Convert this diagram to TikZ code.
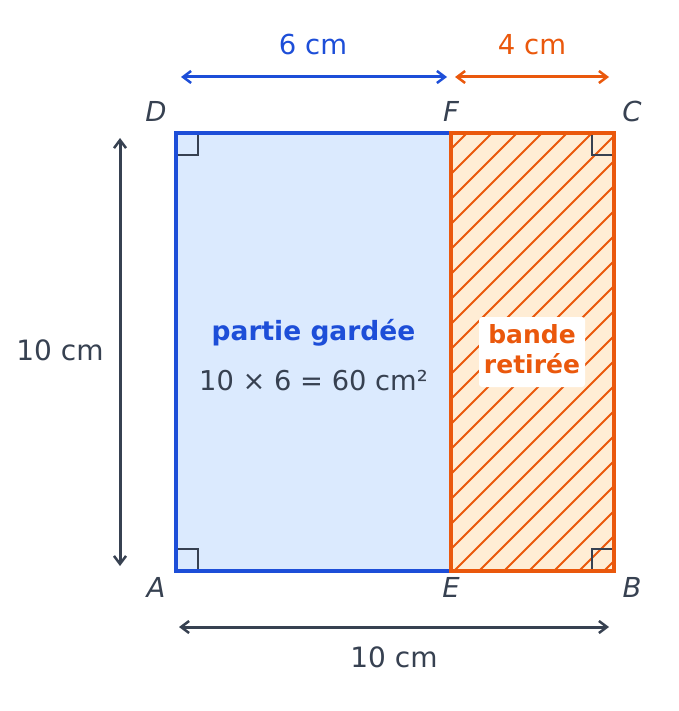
\documentclass[tikz,border=0pt]{standalone}
\usepackage{fontspec}
\setmainfont{DejaVu Sans}
\usetikzlibrary{arrows.meta}
\definecolor{bluec}{HTML}{1D4ED8}
\definecolor{bluefill}{HTML}{DBEAFE}
\definecolor{orangec}{HTML}{EA580C}
\definecolor{orangefill}{HTML}{FFEDD5}
\definecolor{darkc}{HTML}{374151}
\tikzset{
  txt/.style={anchor=base, inner sep=0pt, font=\fontsize{27.5}{32}\selectfont},
  ptlabel/.style={txt, text=darkc, font=\fontsize{27.5}{32}\selectfont\itshape},
  dimarrow/.style={line width=3pt, {Straight Barb[length=8pt,width=12pt,line width=2.5pt]}-{Straight Barb[length=8pt,width=12pt,line width=2.5pt]}},
  rightangle/.style={draw=darkc, line width=2.8pt},
  hatch/.style={orangec, line width=2pt},
}
\begin{document}
\begin{tikzpicture}[x=1pt,y=-1pt]
\useasboundingbox (0,0) rectangle (678,711);
% corner coordinates
\coordinate (A) at (176,571);
\coordinate (B) at (614,571);
\coordinate (C) at (614,133);
\coordinate (D) at (176,133);
\coordinate (E) at (451,571);
\coordinate (F) at (451,133);
% kept part
\fill[bluefill] (A) rectangle (F);
% removed strip
\fill[orangefill] (E) rectangle (C);
\begin{scope}
  \clip (E) rectangle (C);
  \foreach \k in {0,...,30} {
    \pgfmathsetmacro{\c}{600+25*(\k-6)}
    \draw[hatch] (\c-600,600) -- (\c-100,100);
  }
\end{scope}
% right-angle marks
\draw[rightangle] (176,155) -- (198,155) -- (198,133);
\draw[rightangle] (614,155) -- (592,155) -- (592,133);
\draw[rightangle] (176,549) -- (198,549) -- (198,571);
\draw[rightangle] (614,549) -- (592,549) -- (592,571);
% outlines
\draw[bluec, line width=4pt] (E) -- (A) -- (D) -- (F);
\draw[orangec, line width=4pt] (F) rectangle (B);
% texts inside
\node[txt, text=bluec, font=\fontsize{26.5}{30}\selectfont\bfseries] (kept) at (313.5,340) {partie gardée};
\node[txt, text=darkc, font=\fontsize{27.3}{30}\selectfont] (area) at (313.5,390) {10 × 6 = 60 cm²};
\node[fill=white, rounded corners=3pt, minimum width=106pt, minimum height=70pt, inner sep=0pt] (box) at (532,352) {};
\node[txt, text=orangec, font=\fontsize{25}{30}\selectfont\bfseries] (b1) at (532,343) {bande};
\node[txt, text=orangec, font=\fontsize{25}{30}\selectfont\bfseries] (b2) at (532,373) {retirée};
% point labels
\node[ptlabel] (lD) at (156,122) {D};
\node[ptlabel] (lF) at (451,122) {F};
\node[ptlabel] (lC) at (632,122) {C};
\node[ptlabel] (lA) at (156,597) {A};
\node[ptlabel] (lE) at (451,597) {E};
\node[ptlabel] (lB) at (632,597) {B};
% dimension arrows
\coordinate (t1) at (181,77);
\coordinate (t2) at (447,77);
\coordinate (t3) at (455,77);
\coordinate (t4) at (609,77);
\draw[dimarrow, bluec] (t1) -- (t2);
\draw[dimarrow, orangec] (t3) -- (t4);
\node[txt, text=bluec] (l6) at (313,55) {6 cm};
\node[txt, text=orangec] (l4) at (532,55) {4 cm};
\coordinate (v1) at (120,138);
\coordinate (v2) at (120,566);
\draw[dimarrow, darkc] (v1) -- (v2);
\node[txt, text=darkc, font=\fontsize{28}{32}\selectfont] (l10v) at (60,360) {10 cm};
\coordinate (h1) at (179,627);
\coordinate (h2) at (609,627);
\draw[dimarrow, darkc] (h1) -- (h2);
\node[txt, text=darkc, font=\fontsize{28}{32}\selectfont] (l10h) at (394,667) {10 cm};
\end{tikzpicture}
\end{document}
